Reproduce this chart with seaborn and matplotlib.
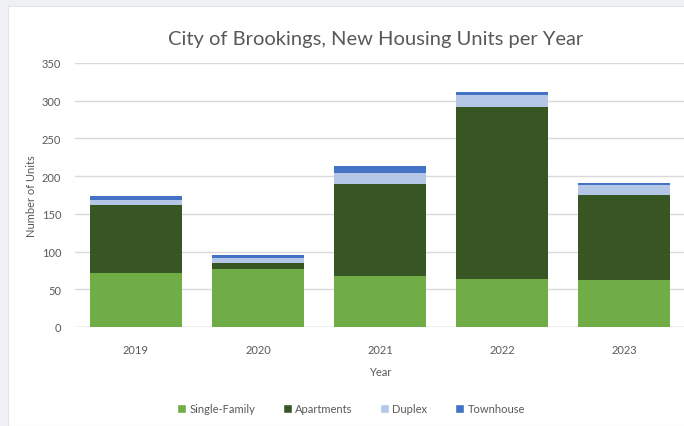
import pandas as pd
import seaborn as sns
import matplotlib.pyplot as plt
from matplotlib.patches import Rectangle, Patch

# --- Data ---
years = ['2019', '2020', '2021', '2022', '2023']
single_family = [72, 77, 68, 64, 62]
apartments = [90, 8, 121, 228, 113]
duplex = [6, 6, 15, 16, 13]
townhouse = [6, 4, 9, 4, 3]

series = ['Single-Family', 'Apartments', 'Duplex', 'Townhouse']
colors = ['#70AD47', '#375623', '#B4C7E7', '#4472C4']

df = pd.DataFrame({'Year': years, 'Single-Family': single_family,
                   'Apartments': apartments, 'Duplex': duplex,
                   'Townhouse': townhouse})

# cumulative tops, drawn from the tallest down so each layer covers the one below
cum = df[series].cumsum(axis=1)

sns.set_theme(style='white')
plt.rcParams['font.family'] = ['Lato', 'DejaVu Sans']

fig = plt.figure(figsize=(6.84, 4.27), dpi=100)
fig.patch.set_facecolor('#eef0f4')
# white card behind the chart
fig.patches.append(Rectangle((8 / 684, 0), 1, 1 - 7 / 427, transform=fig.transFigure,
                             facecolor='white', edgecolor='#e2e4e8', lw=0.8, zorder=-5))

ax = fig.add_axes([75 / 684, 1 - 328 / 427, 610 / 684, 264 / 427])
ax.set_facecolor('none')

for name, col in reversed(list(zip(series, colors))):
    sns.barplot(x=df['Year'], y=cum[name], color=col, width=0.755,
                saturation=1, ax=ax, zorder=3, linewidth=0)

ax.set_ylim(0, 350)
ax.set_yticks(range(0, 351, 50))
ax.set_xlim(-0.5, 4.5)
ax.grid(axis='y', color='#d9d9d9', lw=1, zorder=0)
ax.set_axisbelow(True)
for s in ax.spines.values():
    s.set_visible(False)
ax.axhline(0, color='#d9d9d9', lw=1, zorder=1)
ax.tick_params(axis='both', length=0, labelsize=8, labelcolor='#595959')
ax.tick_params(axis='y', pad=10)
ax.tick_params(axis='x', pad=12)

ax.set_xlabel('Year', fontsize=8, color='#595959', labelpad=8)
ax.set_ylabel('Number of Units', fontsize=8, color='#595959', labelpad=3)

fig.text(0.549, 1 - 40 / 427, 'City of Brookings, New Housing Units per Year',
         ha='center', va='center', fontsize=14.5, color='#595959')

handles = [Patch(facecolor=c, label=s) for s, c in zip(series, colors)]
fig.legend(handles=handles, loc='center', bbox_to_anchor=(0.513, 1 - 410 / 427),
           ncol=4, frameon=False, fontsize=8, handlelength=0.8, handleheight=0.8,
           handletextpad=0.3, columnspacing=2.5, labelcolor='#595959')

plt.savefig('out.png', dpi=100)
